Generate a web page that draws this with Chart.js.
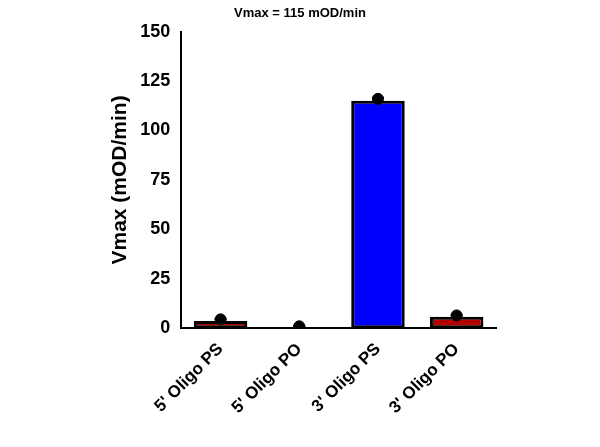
<!DOCTYPE html><html><head><script src="https://cdn.jsdelivr.net/npm/chart.js@4"></script>
<style>body{margin:0;background:#fff}#w{width:600px;height:447px}</style></head><body><div id="w"><canvas id="c"></canvas></div>
<script>
const categories=["5' Oligo PS","5' Oligo PO","3' Oligo PS","3' Oligo PO"];
const barValues=[3.7,0.6,115,5.8];
const pointValues=[4.5,1,116,6.5];
const errLow=[2.8,0.3,114,5.3];
const errHigh=[4.6,1.1,116.5,6.6];
const yTicks=[0,25,50,75,100,125,150];
const barColors=['#b30000','#b30000','#0000ff','#b30000'];
const errPlugin={id:'err',afterDatasetsDraw(ch){const c=ch.ctx,x=ch.scales.x,y=ch.scales.y;c.save();c.strokeStyle='#000';c.lineWidth=2;
categories.forEach((k,i)=>{const px=x.getPixelForValue(i);const a=y.getPixelForValue(errLow[i]),b=y.getPixelForValue(errHigh[i]);
c.beginPath();c.moveTo(px,a);c.lineTo(px,b);c.moveTo(px-6,b);c.lineTo(px+6,b);c.stroke();});c.restore();}};
new Chart(document.getElementById('c'),{type:'bar',data:{labels:categories,datasets:[
{type:'scatter',data:pointValues.map((v,i)=>({x:i,y:v})),backgroundColor:'#000',borderColor:'#000',pointRadius:5.5,order:0},
{data:barValues,backgroundColor:barColors,borderColor:'#000',borderWidth:3,borderSkipped:false,barPercentage:0.68,categoryPercentage:1,order:1}]},
options:{responsive:true,maintainAspectRatio:false,animation:false,layout:{padding:{top:4,right:104,left:104,bottom:26}},
plugins:{legend:{display:false},tooltip:{enabled:false},title:{display:true,text:'Vmax = 115 mOD/min',color:'#000',font:{family:'Liberation Sans',size:13,weight:'bold'},padding:{top:2,bottom:10}}},
scales:{x:{type:'category',offset:true,grid:{display:false,drawTicks:true,tickLength:8,tickWidth:2,tickColor:'#000'},border:{color:'#000',width:2},
ticks:{color:'#000',maxRotation:45,minRotation:45,font:{family:'Liberation Sans',size:17,weight:'bold'}}},
y:{min:0,max:150,afterBuildTicks:s=>{s.ticks=yTicks.map(v=>({value:v}));},grid:{display:false,drawTicks:true,tickLength:8,tickWidth:2,tickColor:'#000'},border:{color:'#000',width:2},
ticks:{color:'#000',font:{family:'Liberation Sans',size:18,weight:'bold'}},
title:{display:true,text:'Vmax (mOD/min)',color:'#000',font:{family:'Liberation Sans',size:21,weight:'bold'}}}}},plugins:[errPlugin]});
</script></body></html>
